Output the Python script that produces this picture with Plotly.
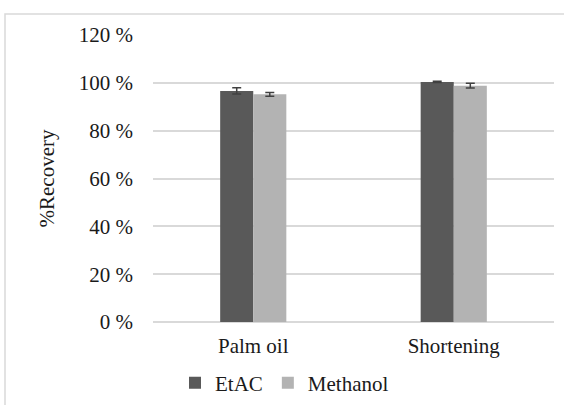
import plotly.graph_objects as go

categories = ["Palm oil", "Shortening"]
etac_values = [96.6, 100.4]
etac_err = [1.3, 0.3]
methanol_values = [95.2, 98.8]
methanol_err = [0.8, 1.0]
y_ticks = [0, 20, 40, 60, 80, 100, 120]
y_tick_labels = ["0 %", "20 %", "40 %", "60 %", "80 %", "100 %", "120 %"]

W, H = 564, 405
L, R, T, B = 153, 10, 35, 83
pw, ph = W - L - R, H - T - B
FS = 21
FAMILY = "Liberation Serif, Times New Roman, serif"

font = dict(family=FAMILY, size=FS, color="#1a1a1a")

fig = go.Figure()
fig.add_trace(go.Bar(
    name="EtAC", x=categories, y=etac_values,
    marker=dict(color="#595959", line=dict(width=0)),
    error_y=dict(type="data", array=etac_err, color="#404040", thickness=1.5, width=4.5),
))
fig.add_trace(go.Bar(
    name="Methanol", x=categories, y=methanol_values,
    marker=dict(color="#b3b3b3", line=dict(width=0)),
    error_y=dict(type="data", array=methanol_err, color="#404040", thickness=1.5, width=4.5),
))

fig.update_layout(
    width=W, height=H,
    margin=dict(l=L, r=R, t=T, b=B, autoexpand=False),
    paper_bgcolor="white", plot_bgcolor="white",
    barmode="group", bargap=0.67, bargroupgap=0,
    font=font,
    showlegend=True,
    legend=dict(orientation="h", x=(175 - L) / pw, xanchor="left",
                y=(H - B - 383) / ph, yanchor="middle",
                font=dict(family=FAMILY, size=FS), itemwidth=30, traceorder="normal"),
    xaxis=dict(showline=False, showgrid=False, ticks="",
               tickfont=dict(family=FAMILY, size=FS),
               ticklabelstandoff=9, automargin=False),
    yaxis=dict(range=[0, 120], tickvals=y_ticks, ticktext=y_tick_labels,
               showgrid=True, gridcolor="#d9d9d9", gridwidth=1.5,
               zeroline=True, zerolinecolor="#d9d9d9", zerolinewidth=1.5,
               showline=False, ticks="", ticklabelstandoff=19,
               tickfont=dict(family=FAMILY, size=FS), automargin=False,
               title=dict(text="%Recovery", font=dict(family=FAMILY, size=FS), standoff=18)),
    shapes=[dict(type="rect", xref="paper", yref="paper",
                 x0=(5 - L) / pw, x1=(W + 20 - L) / pw,
                 y0=(H - B - (H + 20)) / ph, y1=(H - B - 14) / ph,
                 line=dict(color="#d9d9d9", width=1.5), fillcolor="rgba(0,0,0,0)",
                 layer="below")],
)

fig.write_html("out.html",
               config={"displayModeBar": False},
               post_script="document.body.style.margin='0';document.body.style.overflow='hidden';")
